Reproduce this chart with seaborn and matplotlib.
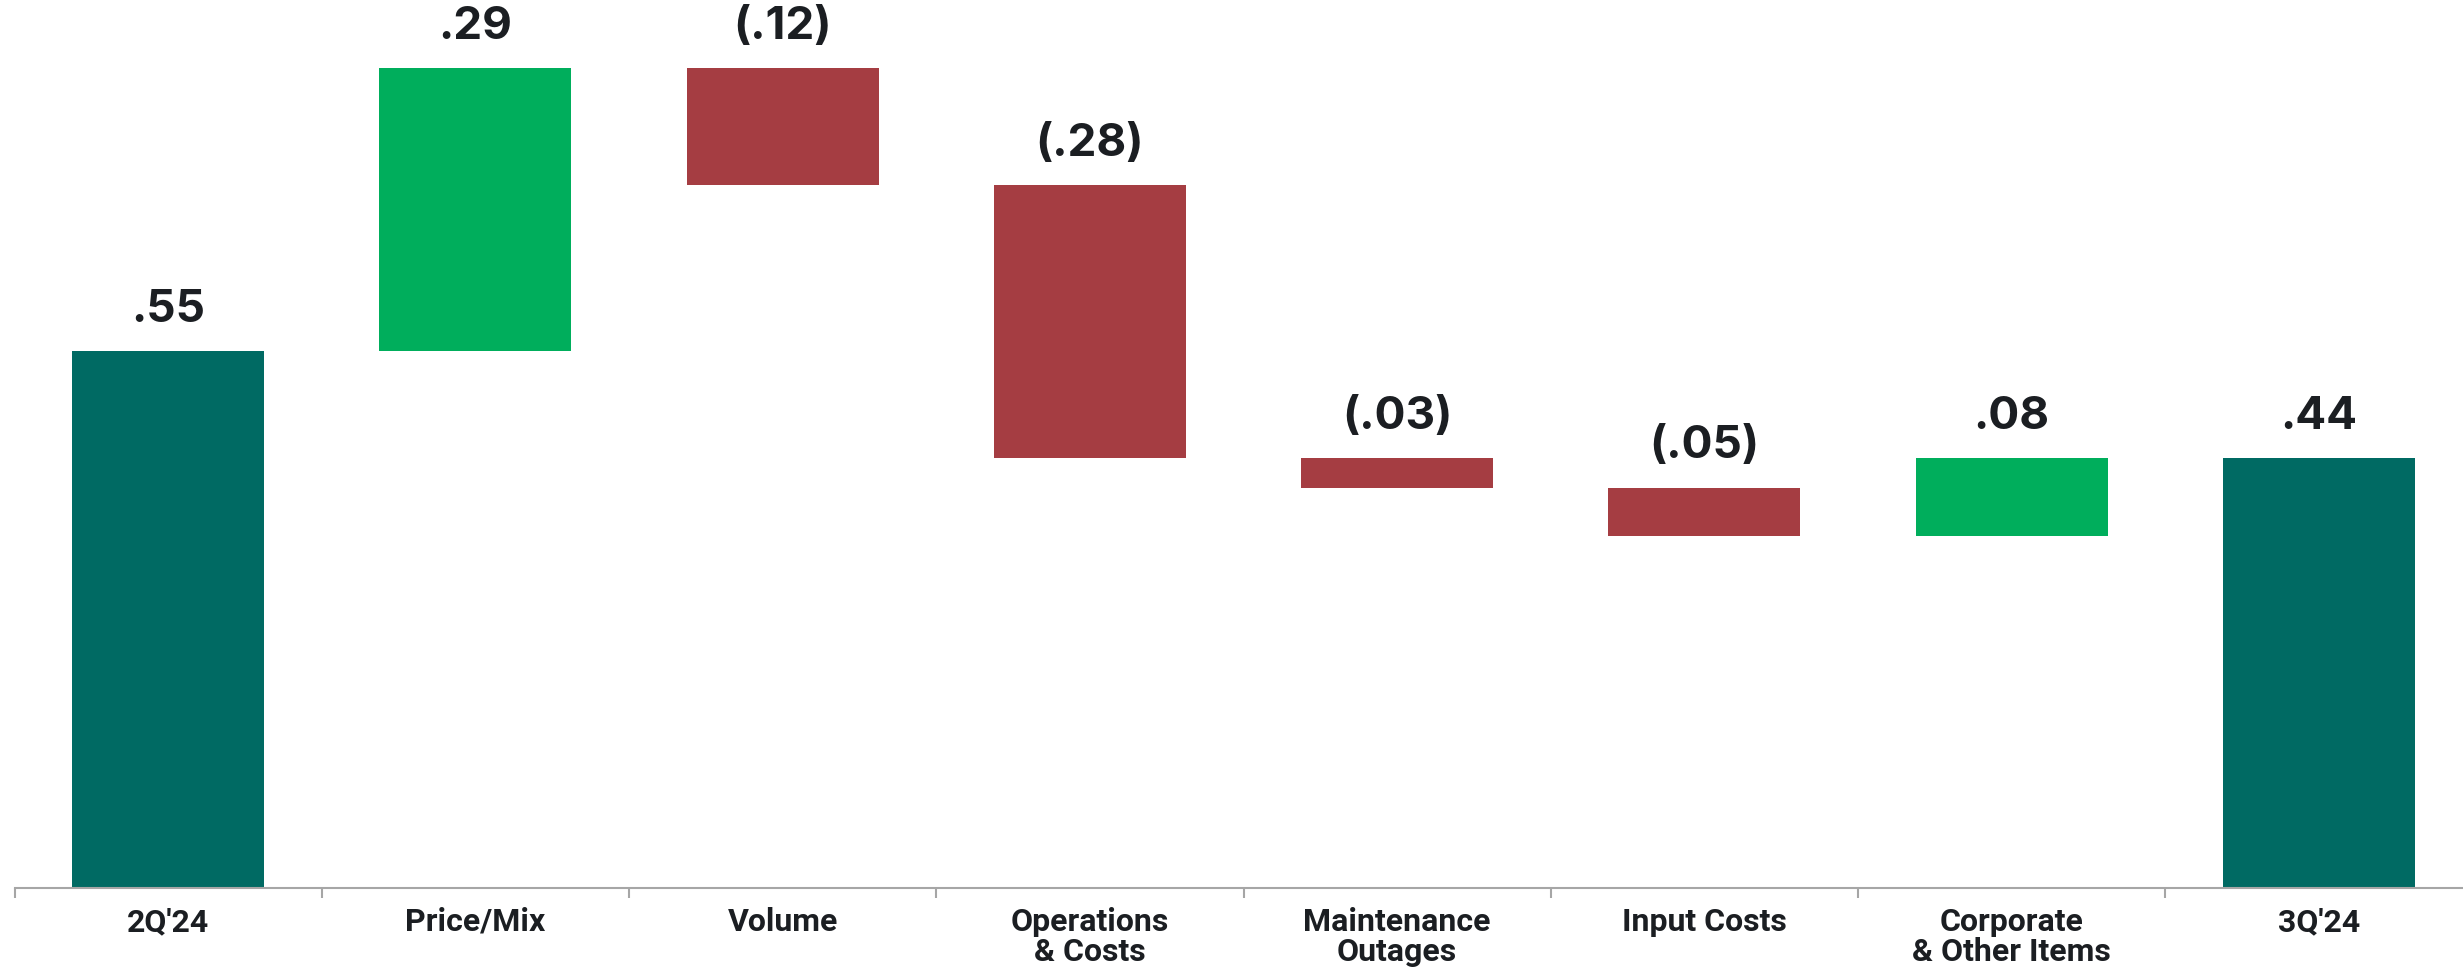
import matplotlib
matplotlib.use("Agg")
import matplotlib.pyplot as plt
from matplotlib import font_manager
import seaborn as sns
import numpy as np
import pandas as pd

# ---- data ----
categories = ["2Q'24", "Price/Mix", "Volume", "Operations\n& Costs",
              "Maintenance\nOutages", "Input Costs", "Corporate\n& Other Items", "3Q'24"]
changes = [0.55, 0.29, -0.12, -0.28, -0.03, -0.05, 0.08, 0.44]
kinds = ["total", "up", "down", "down", "down", "down", "up", "total"]

colors = {"total": "#006A63", "up": "#00AE5C", "down": "#A53D42"}

# waterfall geometry derived from the values
bottoms, heights = [], []
running = 0.0
for v, k in zip(changes, kinds):
    if k == "total":
        bottoms.append(0.0)
        heights.append(v)
        running = v
    else:
        if v >= 0:
            bottoms.append(running)
            heights.append(v)
        else:
            bottoms.append(running + v)
            heights.append(-v)
        running += v
tops = [b + h for b, h in zip(bottoms, heights)]

def fmt(v):
    s = f"{abs(v):.2f}".lstrip("0")
    return f"({s})" if v < 0 else s

df = pd.DataFrame({"cat": categories, "height": heights, "bottom": bottoms})

sns.set_theme(style="white")
names = {f.name for f in font_manager.fontManager.ttflist}
tick_family = ["Liberation Sans Narrow", "DejaVu Sans"] if "Liberation Sans Narrow" in names else ["Roboto", "DejaVu Sans"]
value_family = ["Inter", "DejaVu Sans"] if "Inter" in names else ["Open Sans", "DejaVu Sans"]
plt.rcParams["font.family"] = value_family

W, H = 2463, 968
fig = plt.figure(figsize=(W / 100, H / 100), dpi=100)
ax = fig.add_axes([14.5 / W, 80.5 / H, 2458 / W, 887.5 / H])

sns.barplot(data=df, x="cat", y="height", bottom=df["bottom"].values, order=categories,
            color="#006A63", width=0.625, ax=ax, errorbar=None, saturation=1)
for p, k in zip(ax.patches, kinds):
    p.set_facecolor(colors[k])
    p.set_edgecolor("none")

text_color = "#1B1E22"
for i, (v, t) in enumerate(zip(changes, tops)):
    ax.annotate(fmt(v), xy=(i, t), xytext=(0, 21), textcoords="offset points",
                ha="center", va="baseline", fontsize=33, fontweight="bold",
                color=text_color, family=value_family)

ax.set_xlim(-0.5, len(categories) - 0.5)
ax.set_ylim(0, 0.9097)
ax.set_xlabel("")
ax.set_ylabel("")
ax.set_yticks([])

# tick marks at category boundaries, labels at centres
ax.set_xticks(np.arange(-0.5, len(categories), 1.0))
ax.set_xticklabels([])
ax.set_xticks(np.arange(len(categories)), minor=True)
ax.set_xticklabels(categories, minor=True, fontsize=23, fontweight="bold",
                   color=text_color, linespacing=1.0, family=tick_family)
ax.tick_params(axis="x", which="major", length=7, width=1.5, color="#A6A6A6", bottom=True)
ax.tick_params(axis="x", which="minor", length=0, pad=14)

for s in ["top", "right", "left"]:
    ax.spines[s].set_visible(False)
ax.spines["bottom"].set_color("#A6A6A6")
ax.spines["bottom"].set_linewidth(1.5)

fig.savefig("out.png", dpi=100)
